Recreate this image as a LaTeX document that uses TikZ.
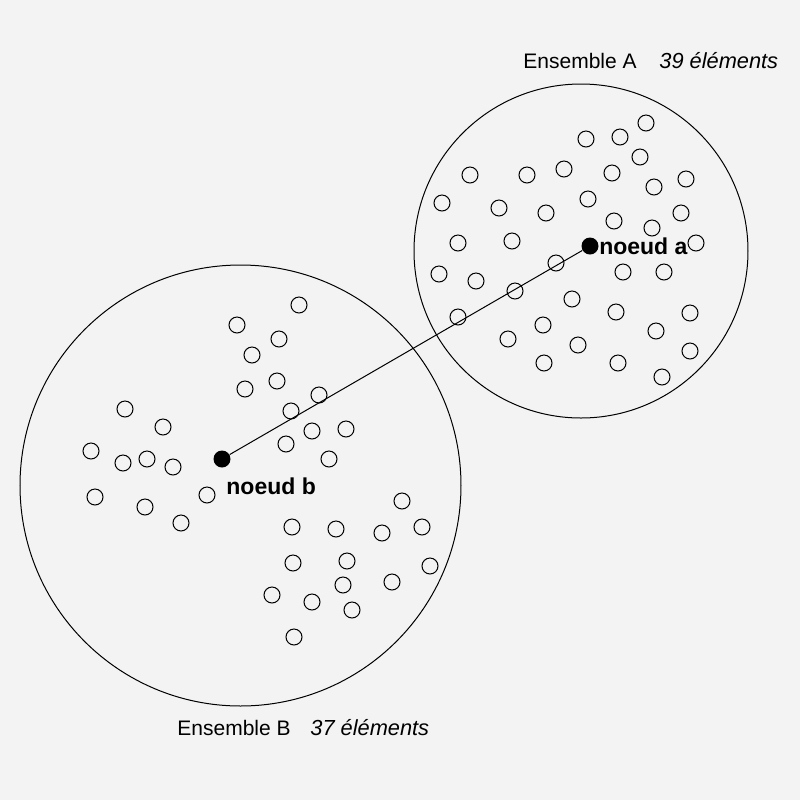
\documentclass[tikz,border=0pt]{standalone}
\usepackage{fontspec}
\setmainfont{Liberation Sans}
\definecolor{fond}{RGB}{243,243,243}
\tikzset{
	noeud/.style={circle, fill=black, inner sep=0pt, minimum size=8.5pt},
	etiq/.style={font=\bfseries\fontsize{11.5}{12}\selectfont, inner sep=0pt, anchor=west},
	titre/.style={font=\fontsize{10.5}{12}\selectfont, inner sep=0pt, anchor=west},
	nombre/.style={font=\itshape\fontsize{10.9}{12}\selectfont, inner sep=0pt, anchor=west},
	trait/.style={line width=0.5pt}
}
\begin{document}
\begin{tikzpicture}[x=0.5pt,y=-0.5pt]
		\fill[fond] (0,0) rectangle (800,800);
		\useasboundingbox (0,0) rectangle (800,800);
		\draw[trait] (581,251) circle (83.5pt);
		\draw[trait] (240.5,485.5) circle (110.25pt);
		\foreach \x/\y in {646/123,586/139,620/137,640/157,470/175,527/175,564/169,612/173,686/179,654/187,442/203,499/208,546/213,588/199,681/213,614/221,652/228,458/243,512/241,696/243,556/263,623/272,664/272,439/274,476/281,515/291,572/299,458/317,616/312,690/313,543/325,656/331,508/339,578/345,690/351,544/363,618/363,662/377} \draw[trait] (\x,\y) circle (4pt);
		\foreach \x/\y in {299/305,237/325,279/339,252/355,277/381,245/389,319/395,291/411,125/409,163/427,312/431,346/429,91/451,123/463,147/459,173/467,286/444,329/459,95/497,145/507,207/495,181/523,402/501,292/527,336/529,382/533,422/527,293/563,347/561,430/566,343/585,392/582,272/595,312/602,352/610,294/637} \draw[trait] (\x,\y) circle (4pt);
		\node[noeud] (a) at (590,246) {};
		\node[noeud] (b) at (222,459) {};
		\draw[trait] (a) -- (b);
		\node[etiq] (ta) at (a.east) {noeud a};
		\node[etiq] (tb) at (226,486) {noeud b};
		\node[titre] (ea) at (523,61) {Ensemble A};
		\node[nombre] (na) at (659,61) {39 éléments};
		\node[titre] (eb) at (177,728) {Ensemble B};
		\node[nombre] (nb) at (310,728) {37 éléments};
	\end{tikzpicture}
\end{document}
